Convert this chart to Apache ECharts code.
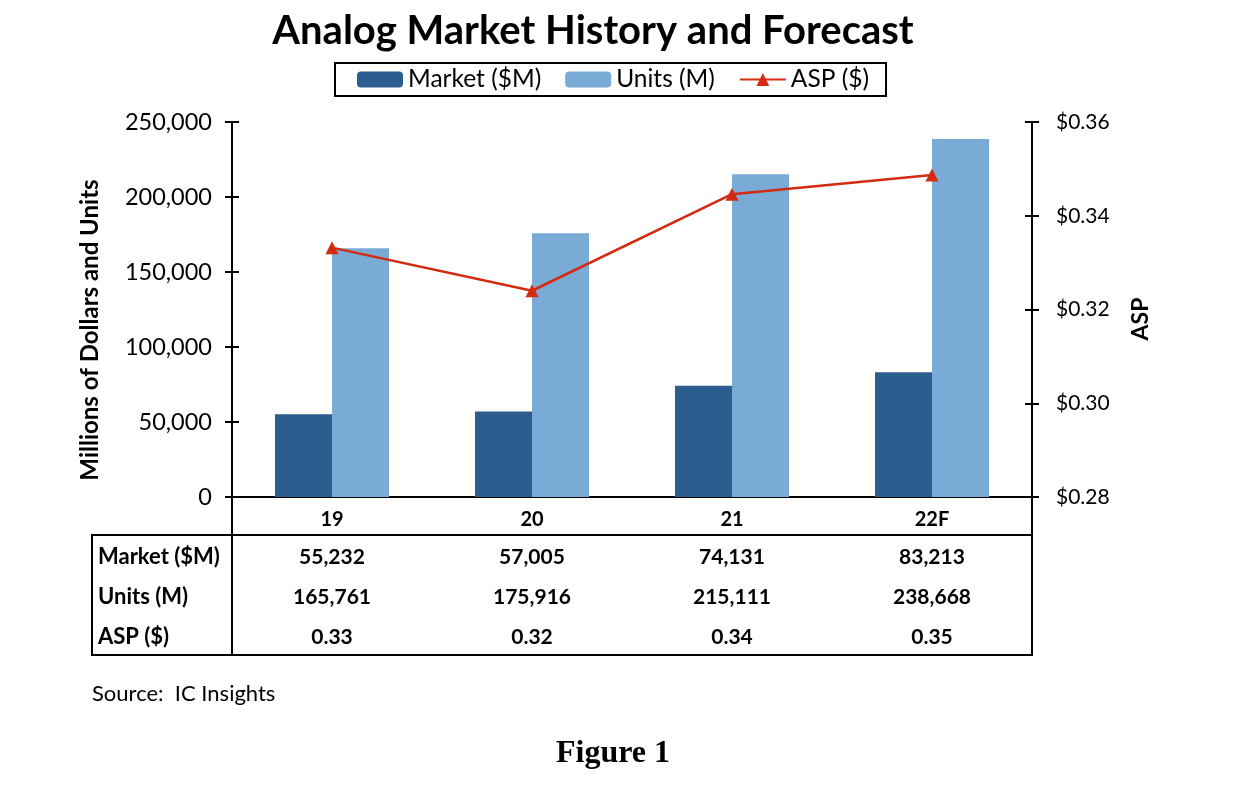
<!DOCTYPE html>
<html>
<head>
<meta charset="utf-8">
<script src="https://cdn.jsdelivr.net/npm/echarts@6/dist/echarts.min.js"></script>
<style>
html,body{margin:0;padding:0;background:#fff;}
#chart{width:1240px;height:790px;}
</style>
</head>
<body>
<div id="chart"></div>
<script>
// ---- data ----
const categories = ['19', '20', '21', '22F'];
const market = [55232, 57005, 74131, 83213];
const units = [165761, 175916, 215111, 238668];
const asp = [0.3332, 0.3240, 0.3446, 0.3487];
const aspLabels = ['0.33', '0.32', '0.34', '0.35'];
const rowHeaders = ['Market ($M)', 'Units (M)', 'ASP ($)'];
const leftAxis = { min: 0, max: 250000, interval: 50000 };
const rightAxis = { min: 0.28, max: 0.36, interval: 0.02 };

const FONT = 'Lato';
const fmtNum = v => Number(v).toLocaleString('en-US');
const tableRows = [market.map(fmtNum), units.map(fmtNum), aspLabels];

const G = { left: 232, right: 208, top: 122, bottom: 293 };
const axisY = 790 - G.bottom; // 497
const rowY = [557, 597, 637];

const chart = echarts.init(document.getElementById('chart'));

const xAxes = [{
  type: 'category', data: categories, position: 'bottom',
  axisLine: { lineStyle: { color: '#000', width: 2 } },
  axisTick: { show: false },
  axisLabel: { color: '#000', fontFamily: FONT, fontWeight: 'bold', fontSize: 20, margin: 23, verticalAlign: 'middle' }
}];
tableRows.forEach((row, r) => {
  xAxes.push({
    type: 'category', data: categories, position: 'bottom', offset: rowY[r] - axisY,
    axisLine: { show: false }, axisTick: { show: false },
    axisLabel: { color: '#000', fontFamily: FONT, fontWeight: 'bold', fontSize: 21, margin: 0, verticalAlign: 'middle',
      formatter: (v, i) => row[i] }
  });
});

const leftBase = {
  type: 'value', position: 'left', min: leftAxis.min, max: leftAxis.max, interval: leftAxis.interval,
  splitLine: { show: false }
};
const rightBase = {
  type: 'value', position: 'right', min: rightAxis.min, max: rightAxis.max, interval: rightAxis.interval,
  splitLine: { show: false }
};

const option = {
  backgroundColor: '#fff',
  animation: false,
  title: {
    text: 'Analog Market History and Forecast', left: 588, top: 6, textAlign: 'center',
    textStyle: { fontFamily: FONT, fontWeight: 'bold', fontSize: 40, color: '#000' }
  },
  legend: {
    left: 335, top: 63,
    borderColor: '#000', borderWidth: 2, padding: [4, 17, 4, 22],
    itemWidth: 46, itemHeight: 16, itemGap: 24,
    textStyle: { fontFamily: FONT, fontSize: 24.5, color: '#000' },
    data: ['Market ($M)', 'Units (M)', 'ASP ($)']
  },
  grid: { left: G.left, right: G.right, top: G.top, bottom: G.bottom, containLabel: false },
  xAxis: xAxes,
  yAxis: [
    Object.assign({}, leftBase, {
      axisLine: { show: true, lineStyle: { color: '#000', width: 2 } },
      axisTick: { show: true, length: 7, lineStyle: { color: '#000', width: 2 } },
      axisLabel: { color: '#000', fontFamily: FONT, fontSize: 23.5, margin: 20, formatter: fmtNum }
    }),
    Object.assign({}, rightBase, {
      axisLine: { show: true, lineStyle: { color: '#000', width: 2 } },
      axisTick: { show: true, length: 7, lineStyle: { color: '#000', width: 2 } },
      axisLabel: { color: '#000', fontFamily: FONT, fontSize: 21, margin: 24, formatter: v => '$' + v.toFixed(2) }
    }),
    Object.assign({}, leftBase, {
      axisLine: { show: false }, axisLabel: { show: false },
      axisTick: { show: true, inside: true, length: 7, lineStyle: { color: '#000', width: 2 } }
    }),
    Object.assign({}, rightBase, {
      axisLine: { show: false }, axisLabel: { show: false },
      axisTick: { show: true, inside: true, length: 7, lineStyle: { color: '#000', width: 2 } }
    })
  ],
  series: [
    { name: 'Market ($M)', type: 'bar', data: market, barWidth: 57, barGap: '0%', itemStyle: { color: '#2B5E8E' }, yAxisIndex: 0 },
    { name: 'Units (M)', type: 'bar', data: units, barWidth: 57, barGap: '0%', itemStyle: { color: '#7AAAD6' }, yAxisIndex: 0 },
    { name: 'ASP ($)', type: 'line', data: asp, yAxisIndex: 1, symbol: 'triangle', symbolSize: 13,
      lineStyle: { color: '#D42A10', width: 2.5 }, itemStyle: { color: '#D42A10' } }
  ],
  graphic: [
    // table frame
    { type: 'line', shape: { x1: 92, y1: 535, x2: 1033, y2: 535 }, style: { stroke: '#000', lineWidth: 2 } },
    { type: 'line', shape: { x1: 92, y1: 655, x2: 1033, y2: 655 }, style: { stroke: '#000', lineWidth: 2 } },
    { type: 'line', shape: { x1: 92, y1: 534, x2: 92, y2: 656 }, style: { stroke: '#000', lineWidth: 2 } },
    { type: 'line', shape: { x1: 232, y1: 497, x2: 232, y2: 656 }, style: { stroke: '#000', lineWidth: 2 } },
    { type: 'line', shape: { x1: 1032, y1: 497, x2: 1032, y2: 656 }, style: { stroke: '#000', lineWidth: 2 } },
    // row headers
    ...rowHeaders.map((t, r) => ({
      type: 'text', x: 98, y: rowY[r],
      style: { text: t, fontFamily: FONT, fontWeight: 'bold', fontSize: 22, fill: '#000', verticalAlign: 'middle' }
    })),
    // left axis name
    { type: 'text', x: 90, y: 330, rotation: Math.PI / 2,
      style: { text: 'Millions of Dollars and Units', fontFamily: FONT, fontWeight: 'bold', fontSize: 24, fill: '#000',
        align: 'center', verticalAlign: 'middle' } },
    // right axis name
    { type: 'text', x: 1141, y: 319, rotation: Math.PI / 2,
      style: { text: 'ASP', fontFamily: FONT, fontWeight: 'bold', fontSize: 23, fill: '#000',
        align: 'center', verticalAlign: 'middle' } },
    // source
    { type: 'text', x: 92, y: 694,
      style: { text: 'Source:  IC Insights', fontFamily: FONT, fontSize: 22, fill: '#000', verticalAlign: 'middle' } },
    // figure caption
    { type: 'text', x: 613, y: 754,
      style: { text: 'Figure 1', fontFamily: 'Liberation Serif', fontWeight: 'bold', fontSize: 32, fill: '#000',
        align: 'center', verticalAlign: 'middle' } }
  ]
};
chart.setOption(option);
</script>
</body>
</html>
